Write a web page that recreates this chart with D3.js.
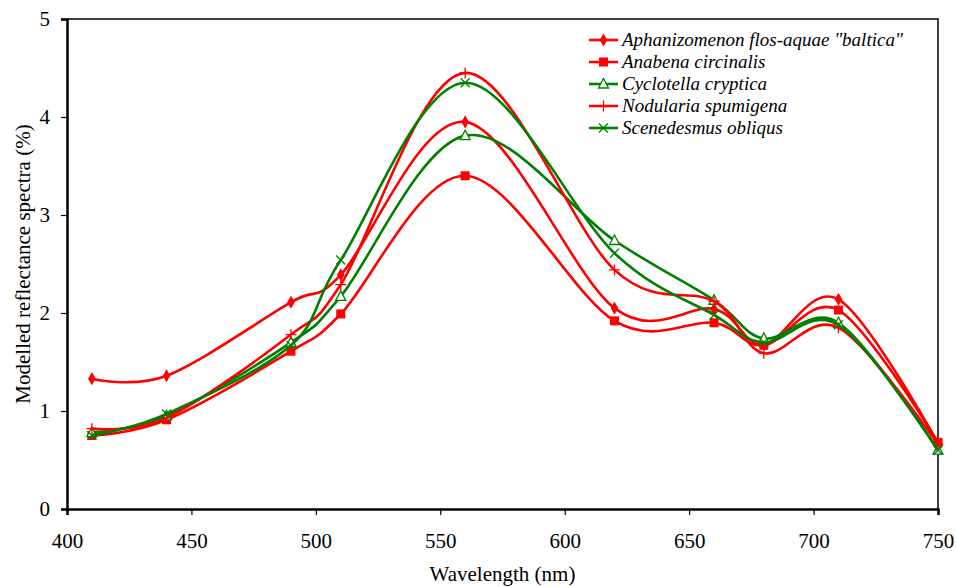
<!DOCTYPE html>
<html lang="en">
<head>
<meta charset="UTF-8">
<title>Modelled reflectance spectra</title>
<script src="https://cdn.jsdelivr.net/npm/d3@7"></script>
<style>
  body { margin: 0; background: #fff; }
  text { font-family: "Liberation Serif", "Times New Roman", serif; }
</style>
</head>
<body>
<svg id="chart"></svg>
<script>
// wavelengths (nm)
var wavelengths = [410, 440, 490, 510, 560, 620, 660, 680, 710, 750];

// series values (%)
var aphanizomenon = [1.33, 1.36, 2.11, 2.39, 3.95, 2.05, 2.04, 1.68, 2.14, 0.67];
var anabena       = [0.75, 0.91, 1.61, 1.99, 3.40, 1.92, 1.90, 1.67, 2.03, 0.68];
var cyclotella    = [0.78, 0.95, 1.70, 2.17, 3.81, 2.74, 2.13, 1.74, 1.90, 0.60];
var nodularia     = [0.82, 0.93, 1.78, 2.29, 4.45, 2.44, 2.12, 1.59, 1.85, 0.66];
var scenedesmus   = [0.75, 0.97, 1.67, 2.54, 4.35, 2.61, 1.98, 1.70, 1.88, 0.60];

var seriesNames = ['Aphanizomenon flos-aquae "baltica"', "Anabena circinalis",
                   "Cyclotella cryptica", "Nodularia spumigena", "Scenedesmus obliqus"];
var xTicks = [400, 450, 500, 550, 600, 650, 700, 750];
var yTicks = [0, 1, 2, 3, 4, 5];

var series = [
  { name: seriesNames[0], values: aphanizomenon, color: "#ff0000", marker: "diamond" },
  { name: seriesNames[1], values: anabena,       color: "#ff0000", marker: "square" },
  { name: seriesNames[2], values: cyclotella,    color: "#008000", marker: "triangle" },
  { name: seriesNames[3], values: nodularia,     color: "#ff0000", marker: "plus" },
  { name: seriesNames[4], values: scenedesmus,   color: "#008000", marker: "cross" }
];

var width = 956, height = 587;
var margin = { top: 19, right: 18, bottom: 78, left: 67 };

var svg = d3.select("#chart").attr("width", width).attr("height", height);

var x = d3.scaleLinear().domain([400, 750]).range([margin.left, width - margin.right]);
var y = d3.scaleLinear().domain([0, 5]).range([height - margin.bottom, margin.top]);

// frame top + right
svg.append("path")
  .attr("d", "M" + x(400) + "," + y(5) + "H" + x(750) + "V" + y(0))
  .attr("fill", "none").attr("stroke", "#000").attr("stroke-width", 1.5);

// axes
var xAxis = svg.append("g")
  .attr("transform", "translate(0," + y(0) + ")")
  .call(d3.axisBottom(x).tickValues(xTicks).tickSize(6));
var yAxis = svg.append("g")
  .attr("transform", "translate(" + x(400) + ",0)")
  .call(d3.axisLeft(y).tickValues(yTicks).tickFormat(d3.format("d")).tickSize(6).tickPadding(11));

[xAxis, yAxis].forEach(function (g) {
  g.select(".domain").attr("stroke-width", 2.5);
  g.selectAll(".tick line").attr("stroke-width", 1.2);
  g.selectAll(".tick text")
    .style("font-family", '"Liberation Serif", serif')
    .style("font-size", "21px").attr("fill", "#000");
});
xAxis.selectAll(".tick text").attr("y", 39).attr("dy", 0);

// axis titles
svg.append("text")
  .attr("x", (x(400) + x(750)) / 2).attr("y", 581)
  .attr("text-anchor", "middle").style("font-size", "21px")
  .text("Wavelength (nm)");
svg.append("text")
  .attr("transform", "translate(30," + ((y(0) + y(5)) / 2) + ") rotate(-90)")
  .attr("text-anchor", "middle").style("font-size", "21px")
  .text("Modelled reflectance spectra (%)");

// line generator - excel style smoothing
var line = d3.line()
  .x(function (d) { return x(d[0]); })
  .y(function (d) { return y(d[1]); })
  .curve(d3.curveCardinal.tension(0));

function drawMarker(g, type, color, cx, cy) {
  if (type === "diamond") {
    g.append("path").attr("d", d3.symbol(d3.symbolDiamond, 50)())
      .attr("transform", "translate(" + cx + "," + cy + ")").attr("fill", color);
  } else if (type === "square") {
    g.append("rect").attr("x", cx - 4.5).attr("y", cy - 4.5)
      .attr("width", 9).attr("height", 9).attr("fill", color);
  } else if (type === "triangle") {
    g.append("path").attr("d", "M0,-5.5L5,4L-5,4Z")
      .attr("transform", "translate(" + cx + "," + cy + ")")
      .attr("fill", "#fff").attr("stroke", color).attr("stroke-width", 1.3);
  } else if (type === "plus") {
    g.append("path").attr("d", "M-5.5,0H5.5M0,-5.5V5.5")
      .attr("transform", "translate(" + cx + "," + cy + ")")
      .attr("stroke", color).attr("stroke-width", 1.3);
  } else if (type === "cross") {
    g.append("path").attr("d", "M-4.5,-4.5L4.5,4.5M-4.5,4.5L4.5,-4.5")
      .attr("transform", "translate(" + cx + "," + cy + ")")
      .attr("stroke", color).attr("stroke-width", 1.3);
  }
}

var plot = svg.append("g");
series.forEach(function (s) {
  var pts = wavelengths.map(function (w, i) { return [w, s.values[i]]; });
  plot.append("path").datum(pts)
    .attr("d", line).attr("fill", "none")
    .attr("stroke", s.color).attr("stroke-width", 2.6);
  var mg = plot.append("g");
  pts.forEach(function (p) { drawMarker(mg, s.marker, s.color, x(p[0]), y(p[1])); });
});

// legend
var legend = svg.append("g");
series.forEach(function (s, i) {
  var ly = 40 + i * 22;
  legend.append("line").attr("x1", 589).attr("x2", 618)
    .attr("y1", ly).attr("y2", ly).attr("stroke", s.color).attr("stroke-width", 2.6);
  drawMarker(legend, s.marker, s.color, 603.5, ly);
  legend.append("text").attr("x", 622).attr("y", ly + 6)
    .style("font-size", "19px").style("font-style", "italic")
    .text(s.name);
});
</script>
</body>
</html>
